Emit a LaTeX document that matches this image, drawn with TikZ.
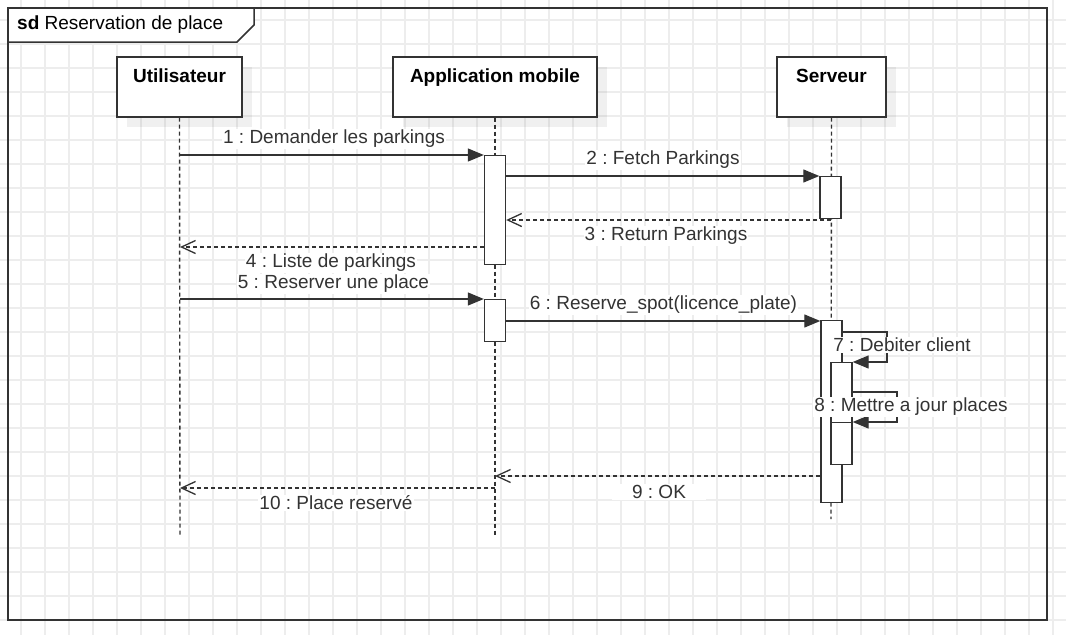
\documentclass[tikz,border=0pt]{standalone}
\usepackage{fontspec}
\setmainfont{Liberation Sans}
\usetikzlibrary{arrows.meta,shadows}
\definecolor{ink}{HTML}{333333}
\definecolor{gridc}{HTML}{EDEDED}
\frenchspacing
\begin{document}
\begin{tikzpicture}[x=1pt,y=-1pt,
  every node/.style={font=\fontsize{19}{22}\selectfont},
  gridline/.style={draw=gridc, line width=1.6pt},
  headbox/.style={draw=ink, line width=1.7pt, fill=white, inner xsep=0pt, inner ysep=0pt,
    anchor=north, text height=26pt, text depth=34pt, font=\fontsize{19}{22}\selectfont\bfseries,
    drop shadow={shadow xshift=10pt, shadow yshift=-10pt, fill=black, opacity=0.06}},
  lifeline/.style={draw=ink, line width=1.4pt, dash pattern=on 4pt off 3pt},
  act/.style={draw=ink, line width=1.4pt, fill=white, minimum width=21pt, inner sep=0pt, anchor=north},
  sync/.style={draw=ink, line width=1.3pt, -{Triangle[length=16pt,width=13pt]}},
  ret/.style={draw=ink, line width=1.3pt, dash pattern=on 4pt off 3pt, -{Straight Barb[length=14pt,width=13pt,line width=1.3pt]}},
  lbl/.style={fill=white, text=ink, inner xsep=1pt, inner ysep=1pt}
]
\useasboundingbox (0,0) rectangle (1066,635);
\fill[white] (0,0) rectangle (1066,635);
% grid
\foreach \i in {0,...,43} \draw[gridline] ({21+24*\i},0) -- ({21+24*\i},635);
\foreach \j in {0,...,25} \draw[gridline] (0,{20+24*\j}) -- (1066,{20+24*\j});

% frame
\draw[ink, line width=2pt] (8,8) rectangle (1047,620);
\draw[ink, line width=1.5pt, fill=white] (8,8) -- (254,8) -- (254,25) -- (237,42) -- (8,42) -- cycle;
\node[anchor=west, inner sep=2pt, text=black] (sdtitle) at (15,25) {\textbf{sd} Reservation de place};

% heads
\node[headbox, minimum width=125pt] (user) at (179.5,56) {Utilisateur};
\node[headbox, minimum width=204pt] (app) at (495,56) {Application mobile};
\node[headbox, minimum width=109pt] (srv) at (831.5,56) {Serveur};

% lifelines
\coordinate (userend) at (180,535);
\coordinate (append) at (495,535);
\coordinate (srvend) at (831,519);
\draw[lifeline] (user.south) -- (userend);
\draw[lifeline] (app.south) -- (append);
\draw[lifeline] (srv.south) -- (srvend);

% activations
\node[act, minimum height=109pt] (a1) at (495,155) {};
\node[act, minimum height=42pt] (a2) at (495,299) {};
\node[act, minimum height=42pt] (s1) at (830.5,176) {};
\node[act, minimum height=182pt] (s2) at (831.5,320) {};
\node[act, minimum height=102pt] (s3) at (841.5,362) {};
\node[act, minimum height=42pt] (s4) at (841.5,422) {};

% message anchors
\coordinate (m1) at (180,155);
\coordinate (m3) at (831,220);
\coordinate (m4) at (180,247);
\coordinate (m5) at (180,299);
\coordinate (m6) at (831,321);
\coordinate (m7) at (887,332);
\coordinate (m8) at (897,392);
\coordinate (m9) at (495,476);
\coordinate (m10) at (180,488);

% messages
\draw[sync] (m1) -- (a1.north west);
\draw[sync] (a1.east |- s1.north) -- (s1.north west);
\draw[ret] (m3) -- (a1.east |- m3);
\draw[ret] (a1.west |- m4) -- (m4);
\draw[sync] (m5) -- (a2.north west);
\draw[sync] (a2.east |- m6) -- (s2.west |- m6);
\draw[sync] (s2.east |- m7) -- (m7) |- (s3.north east);
\draw[sync] (s3.east |- m8) -- (m8) |- (s4.north east);
\draw[ret] (s2.west |- m9) -- (m9);
\draw[ret] (m9 |- m10) -- (m10);

% labels
\node[lbl] (l1) at (334,139) {1 : Demander les parkings};
\node[lbl] (l2) at (663,160) {2 : Fetch Parkings};
\node[lbl] (l3) at (666,236) {3 : Return Parkings};
\node[lbl] (l4) at (331,263) {4 : Liste de parkings};
\node[lbl] (l5) at (333.5,284) {5 : Reserver une place};
\node[lbl] (l6) at (663.5,305) {6 : Reserve\_spot(licence\_plate)};
\node[lbl] (l7) at (902,345) {7 : Debiter client};
\node[lbl] (l8) at (911,407) {8 : Mettre a jour places};
\node[lbl, inner xsep=20pt] (l9) at (659,492) {9 : OK};
\node[lbl] (l10) at (336,503) {10 : Place reservé};
\end{tikzpicture}
\end{document}
